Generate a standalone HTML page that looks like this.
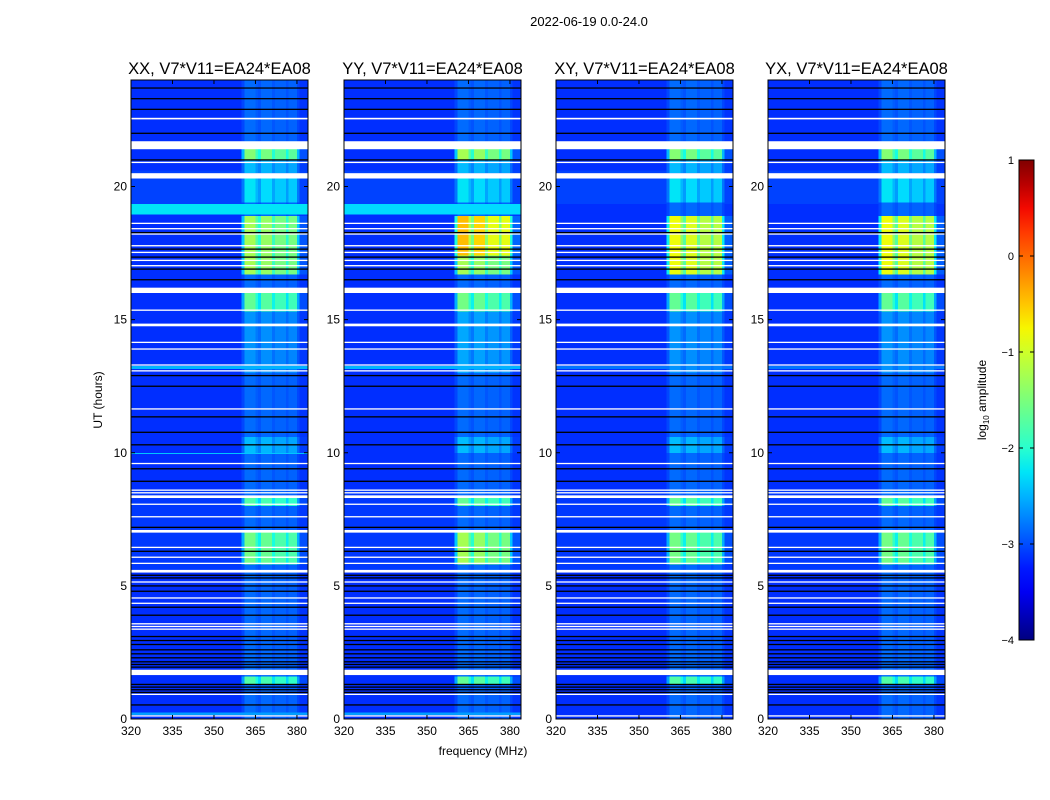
<!DOCTYPE html>
<html><head><meta charset="utf-8"><style>
body{margin:0;background:#fff;width:1050px;height:800px;position:relative;overflow:hidden;font-family:"Liberation Sans",sans-serif}
canvas{position:absolute;image-rendering:pixelated}
svg{position:absolute;left:0;top:0}
</style></head><body>
<div id="plots"></div>
<svg id="ov" width="1050" height="800"></svg>
<script>
// ---- data ----
const panelTitles=["XX, V7*V11=EA24*EA08","YY, V7*V11=EA24*EA08","XY, V7*V11=EA24*EA08","YX, V7*V11=EA24*EA08"];
const xTicks=[320,335,350,365,380];
const yTicks=[0,5,10,15,20];
const cbTicks=[1,0,-1,-2,-3,-4];
// RFI channel profile, 1 MHz channels from 320 to 383 MHz
const channelProfile=[0,0,0,0,0,0,0,0,0,0,0,0,0,0,0,0,0,0,0,0,0,0,0,0,0,0,0,0,0,0,0,0,0,0,0,0,0,0,0,0,
0.4,1,1,1,1,0.75,0.6,0.95,0.95,0.95,0.95,0.65,0.85,0.85,0.85,0.85,0.6,0.85,0.85,0.85,0.4,0.1,0.1,0.1];
// broadband base level segments [t0,t1,log amp]
const baseSegments=[[0,5.5,-3.35],[5.5,8.6,-3.1],[8.6,13.0,-3.35],[13.0,19.0,-3.2],[19.35,20.6,-3.05],[20.6,24,-3.25]];
// per-panel extra broadband segments
const extraSegments=[
 [[18.95,19.35,-2.25],[9.93,10.02,-2.4],[13.15,13.25,-2.5],[0.15,0.25,-2.6]],
 [[18.95,19.35,-2.3],[13.15,13.25,-2.5],[0.15,0.25,-2.6]],
 [[13.15,13.25,-2.8]],
 [[13.15,13.25,-2.8]]];
// RFI band gain segments [t0,t1,gain]
const gainSegments=[
 [[21.0,21.4,1.7],[20.5,21.0,0.7],[19.4,20.3,0.9],[16.7,18.9,1.9],[15.3,16.0,1.5],[13.0,15.3,0.5],[10.0,10.6,0.7],[8.0,8.3,1.4],[5.8,7.0,1.6],[1.3,1.6,1.4]],
 [[21.0,21.4,1.9],[20.5,21.0,0.7],[19.4,20.3,0.9],[17.4,18.9,2.7],[16.7,17.4,1.9],[15.3,16.0,1.6],[13.0,15.3,0.6],[10.0,10.6,0.7],[8.0,8.3,1.5],[5.8,7.0,1.9],[1.3,1.6,1.5]],
 [[21.0,21.4,1.7],[20.5,21.0,0.7],[19.4,20.3,0.9],[16.7,18.9,2.35],[15.3,16.0,1.5],[13.0,15.3,0.5],[10.0,10.6,0.7],[8.0,8.3,1.5],[5.8,7.0,1.6],[1.3,1.6,1.4]],
 [[21.0,21.4,1.7],[20.5,21.0,0.7],[19.4,20.3,0.9],[16.7,18.9,2.35],[15.3,16.0,1.5],[13.0,15.3,0.5],[10.0,10.6,0.7],[8.0,8.3,1.5],[5.8,7.0,1.6],[1.3,1.6,1.4]]];
// flagged (white) time ranges
const whiteFlags=[[22.52,22.58],[21.4,21.7],[20.88,20.93],[20.3,20.5],[18.6,18.64],[18.4,18.44],[18.2,18.24],[17.75,17.8],[17.5,17.55],[17.2,17.25],[17.0,17.05],[16.0,16.2],[15.33,15.38],[14.75,14.85],[14.13,14.17],[13.88,13.92],[13.28,13.32],[13.06,13.1],[11.63,11.67],[9.58,9.62],[8.58,8.62],[8.48,8.52],[8.3,8.4],[8.05,8.09],[7.58,7.62],[7.0,7.1],[6.43,6.47],[6.06,6.1],[5.83,5.87],[5.5,5.6],[5.13,5.17],[4.53,4.57],[4.33,4.37],[3.55,3.6],[3.45,3.5],[3.35,3.4],[1.65,1.85],[0.91,0.95],[0.1,0.14]];
// dark (black) time lines
const blackLines=[23.7,23.3,22.9,22.0,21.0,18.27,17.65,17.35,16.9,16.5,12.9,12.5,11.35,10.77,10.3,9.4,8.93,7.2,6.3,5.4,5.3,5.0,4.8,4.2,3.9,3.1,2.95,2.8,2.6,2.45,2.3,2.15,2.05,1.95,1.3,1.2,1.1,1.0,0.53];

// ---- layout ----
const PX=[131,344,556,768],PW=177,PT=80,PB=719;
const xs=(f,i)=>PX[i]+(f-320)/64*PW;
const ys=t=>PB-t/24*(PB-PT);
function jet(x){x=Math.max(0,Math.min(1,x));
 const seg=(pts)=>{for(let k=1;k<pts.length;k++){if(x<=pts[k][0]){const a=pts[k-1],b=pts[k];return a[1]+(b[1]-a[1])*(x-a[0])/(b[0]-a[0]);}}return pts[pts.length-1][1];};
 return [seg([[0,0],[0.35,0],[0.66,1],[0.89,1],[1,0.5]]),seg([[0,0],[0.125,0],[0.375,1],[0.64,1],[0.91,0],[1,0]]),seg([[0,0.5],[0.11,1],[0.34,1],[0.65,0],[1,0]])].map(v=>Math.round(v*255));}
const cmap=v=>jet((v+4)/5);
const lookup=(segs,t,def)=>{for(const s of segs){if(t>=s[0]&&t<s[1])return s[2];}return def;};

const NR=480,NC=channelProfile.length;
const host=document.getElementById('plots');
for(let p=0;p<4;p++){
 const c=document.createElement('canvas');
 
 
 c.width=NC;c.height=NR;c.style.left=PX[p]+'px';c.style.top=PT+'px';c.style.width=PW+'px';c.style.height=(PB-PT)+'px';
 const ctx=c.getContext('2d');const img=ctx.createImageData(NC,NR);
 for(let r=0;r<NR;r++){const t=24-(r+0.5)*24/NR;
  let base=lookup(extraSegments[p],t,null);if(base===null)base=lookup(baseSegments,t,-3.25);
  const g=lookup(gainSegments[p],t,0.3);
  for(let ch=0;ch<NC;ch++){const v=Math.max(base,-3.15+channelProfile[ch]*g);
   const col=cmap(v);const o=(r*NC+ch)*4;img.data[o]=col[0];img.data[o+1]=col[1];img.data[o+2]=col[2];img.data[o+3]=255;}}
 ctx.putImageData(img,0,0);host.appendChild(c);
}

const NS='http://www.w3.org/2000/svg';const svg=document.getElementById('ov');
function el(tag,attrs,txt){const e=document.createElementNS(NS,tag);for(const k in attrs)e.setAttribute(k,attrs[k]);if(txt!=null)e.textContent=txt;svg.appendChild(e);return e;}
for(let p=0;p<4;p++){
 for(const w of whiteFlags){const y1=ys(w[1]),y0=ys(w[0]);
  const e=el('rect',{x:PX[p],y:y1,width:PW,height:Math.max(1.3,y0-y1),fill:'#fff'});
  
  }
 for(const b of blackLines){
  const e=el('rect',{x:PX[p],y:ys(b)-0.6,width:PW,height:1.3,fill:'#000'});
  
  }
 const fr=el('rect',{x:PX[p],y:PT,width:PW,height:PB-PT,fill:'none',stroke:'#000','stroke-width':1});
 
 
 const tt=el('text',{x:PX[p]+PW/2,y:74,'text-anchor':'middle','font-size':16.5},panelTitles[p]);
 
 
 for(const f of xTicks){const x=xs(f,p);
  el('line',{x1:x,x2:x,y1:PB,y2:PB-4,stroke:'#000'});el('line',{x1:x,x2:x,y1:PT,y2:PT+4,stroke:'#000'});
  const l=el('text',{x:x,y:735,'text-anchor':'middle','font-size':12},String(f));
  
  }
 for(const t of yTicks){const y=ys(t);
  el('line',{x1:PX[p],x2:PX[p]+4,y1:y,y2:y,stroke:'#000'});el('line',{x1:PX[p]+PW,x2:PX[p]+PW-4,y1:y,y2:y,stroke:'#000'});
  const l=el('text',{x:PX[p]-4,y:y+4,'text-anchor':'end','font-size':12},String(t));
  
  }
}
const st=el('text',{x:589,y:26,'text-anchor':'middle','font-size':13},'2022-06-19 0.0-24.0');


const yl=el('text',{x:102,y:400,'text-anchor':'middle','font-size':12,transform:'rotate(-90 102 400)'},'UT (hours)');


const xl=el('text',{x:483,y:755,'text-anchor':'middle','font-size':12},'frequency (MHz)');


// colorbar
const CBX=1019,CBW=15,CBT=160,CBB=640;
const defs=el('defs',{});const lg=document.createElementNS(NS,'linearGradient');lg.setAttribute('id','jet');lg.setAttribute('x1','0');lg.setAttribute('y1','1');lg.setAttribute('x2','0');lg.setAttribute('y2','0');
for(let k=0;k<=20;k++){const s=document.createElementNS(NS,'stop');const c=jet(k/20);s.setAttribute('offset',(k/20));s.setAttribute('stop-color','rgb('+c.join(',')+')');lg.appendChild(s);}defs.appendChild(lg);
const cb=el('rect',{x:CBX,y:CBT,width:CBW,height:CBB-CBT,fill:'url(#jet)',stroke:'#000'});


const cy=v=>CBB-(v+4)/5*(CBB-CBT);
for(const v of cbTicks){const y=cy(v);
 el('line',{x1:CBX,x2:CBX+4,y1:y,y2:y,stroke:'#000'});el('line',{x1:CBX+CBW,x2:CBX+CBW-4,y1:y,y2:y,stroke:'#000'});
 const l=el('text',{x:CBX-5,y:y+4,'text-anchor':'end','font-size':11},v<0?'\u2212'+(-v):String(v));
 
 }
const cl=el('text',{x:986,y:400,'text-anchor':'middle','font-size':12,transform:'rotate(-90 986 400)'});


cl.innerHTML='log<tspan font-size="8" dy="3">10</tspan><tspan dy="-3"> amplitude</tspan>';
</script>
</body></html>
